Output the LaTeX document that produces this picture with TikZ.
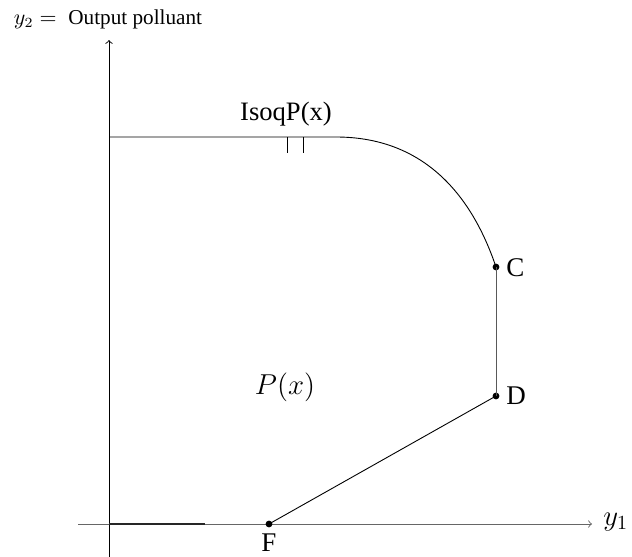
\documentclass[tikz,border=0pt]{standalone}
\usepackage{fontspec}
\setmainfont{Liberation Serif}
\begin{document}
\begin{tikzpicture}[x=0.5pt,y=-0.5pt,
  thinline/.style={line width=0.45pt},
  pt/.style={circle,fill=black,inner sep=0pt,minimum size=3.4pt},
  lbl/.style={font=\fontsize{13.5}{15}\selectfont,inner sep=0pt}]
\useasboundingbox (0,0) rectangle (632,557);
% axes
\coordinate (yb) at (109,557);
\coordinate (yt) at (109,40);
\coordinate (xl) at (78,524);
\coordinate (xr) at (592,524);
\draw[thinline,->] (yb) -- (yt);
\draw[thinline,black!60,->] (xl) -- (xr);
\coordinate (o) at (109,524);
\coordinate (s) at (205,524);
\draw[line width=0.6pt,black!85] (o) -- (s);
% frontier
\coordinate (a) at (109,137);
\coordinate (b) at (336,137);
\node[pt] (C) at (496,267) {};
\node[pt] (D) at (496,396) {};
\node[pt] (F) at (269,524) {};
\draw[thinline] (a) -- (b) .. controls (420,137) and (470,190) .. (C.center);
\draw[thinline,black!65] (C.center) -- (D.center);
\draw[thinline] (D.center) -- (F.center);
% ticks
\coordinate (t1a) at (287,137);
\coordinate (t1b) at (287,153);
\coordinate (t2a) at (303,137);
\coordinate (t2b) at (303,153);
\draw[thinline] (t1a) -- (t1b);
\draw[thinline] (t2a) -- (t2b);
% labels
\node[lbl,anchor=west] (Cl) at (506,268) {C};
\node[lbl,anchor=west] (Dl) at (506,396) {D};
\node[lbl] (Fl) at (269,543) {F};
\node[lbl,font=\fontsize{13.3}{15}\selectfont] (iso) at (286,114) {IsoqP(x)};
\node[inner sep=0pt,font=\fontsize{13.3}{15}\selectfont] (px) at (285,387) {$P(x)$};
\node[inner sep=0pt,anchor=west,font=\fontsize{14.5}{16}\selectfont] (y1) at (603,522) {$y_1$};
\node[inner sep=0pt,font=\fontsize{10.6}{12}\selectfont] (y2) at (108,19) {$y_2 =$\hspace{0.55em}Output polluant};
\end{tikzpicture}
\end{document}
